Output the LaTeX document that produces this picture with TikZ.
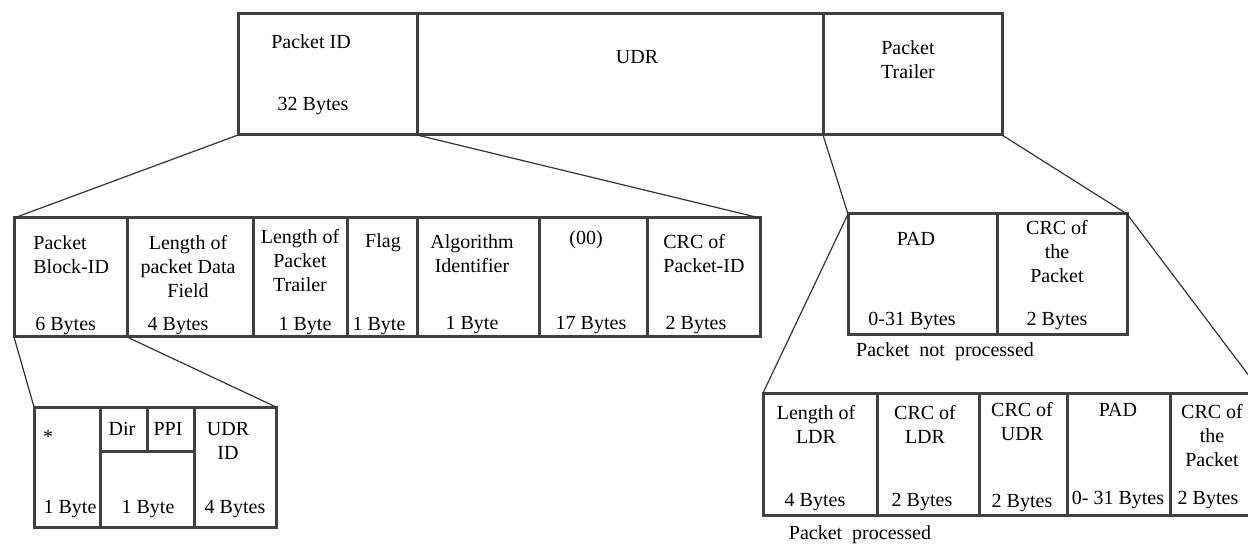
\documentclass[tikz,border=0pt]{standalone}
\usepackage{fontspec}
\setmainfont{Liberation Serif}
\usetikzlibrary{fit}

\tikzset{
  cell/.style={draw=black!75, line width=1.5pt, inner sep=0pt, outer sep=0pt},
  field/.style={inner sep=0pt, align=center, font=\fontsize{10}{12}\selectfont},
  link/.style={draw=black!80, line width=0.6pt}
}

\begin{document}
\begin{tikzpicture}[x=0.5pt, y=-0.5pt]

\useasboundingbox (0,0) rectangle (1248,545);
\clip (0,0) rectangle (1248,545);

% Packet
\foreach \n/\a/\b in {pid/238/417, udr/417/823, trl/823/1002}
  \node[cell, fit={(\a,14) (\b,135)}] (\n) {};

% Packet ID fields
\foreach \n/\a/\b in {blk/14/127, lpd/127/253, lpt/253/347, flg/347/417,
                      alg/417/539, zer/539/647, crc/647/760}
  \node[cell, fit={(\a,218) (\b,337)}] (\n) {};

% Packet Block-ID fields
\foreach \n/\a/\b in {ast/34/100, bye/100/194, uid/194/276}
  \node[cell, fit={(\a,407) (\b,527)}] (\n) {};
\foreach \n/\a/\b in {dir/100/147, ppi/147/194}
  \node[cell, fit={(\a,407) (\b,451)}] (\n) {};

% Trailer, not processed
\foreach \n/\a/\b in {pad/848/997, crcp/997/1127}
  \node[cell, fit={(\a,214) (\b,335)}] (\n) {};

% Trailer, processed
\foreach \n/\a/\b in {lld/763/877, cld/877/979, cud/979/1067, pdd/1067/1170, cpk/1170/1262}
  \node[cell, fit={(\a,393) (\b,515)}] (\n) {};

% Texts
\node[field] (pid-n) at (311,42) {Packet ID};
\node[field] (pid-b) at (313,106) {32 Bytes};
\node[field] (udr-n) at (637,57) {UDR};
\node[field] (trl-n) at (908,60) {Packet\\Trailer};

\node[field, align=left, anchor=west] (blk-n) at (33,255) {Packet\\Block-ID};
\node[field, anchor=west] (blk-b) at (35,326) {6 Bytes};
\node[field] (lpd-n) at (188,267) {Length of\\packet Data\\Field};
\node[field] (lpd-b) at (178,326) {4 Bytes};
\node[field] (lpt-n) at (300,261) {Length of\\Packet\\Trailer};
\node[field] (lpt-b) at (305,326) {1 Byte};
\node[field] (flg-n) at (383,243) {Flag};
\node[field] (flg-b) at (379,326) {1 Byte};
\node[field] (alg-n) at (472,254) {Algorithm\\Identifier};
\node[field] (alg-b) at (472,325) {1 Byte};
\node[field] (zer-n) at (586,240) {(00)};
\node[field] (zer-b) at (591,325) {17 Bytes};
\node[field, align=left, anchor=west] (crc-n) at (663,254) {CRC of\\Packet-ID};
\node[field] (crc-b) at (696,325) {2 Bytes};

\node[field] (ast-n) at (48,437) {*};
\node[field] (ast-b) at (70,509) {1 Byte};
\node[field] (dir-n) at (122,429) {Dir};
\node[field] (ppi-n) at (168,429) {PPI};
\node[field] (bye-b) at (148,509) {1 Byte};
\node[field] (uid-n) at (228,441) {UDR\\ID};
\node[field] (uid-b) at (235,509) {4 Bytes};

\node[field] (pad-n) at (916,239) {PAD};
\node[field] (pad-b) at (912,321) {0-31 Bytes};
\node[field] (crcp-n) at (1057,252) {CRC of\\the\\Packet};
\node[field] (crcp-b) at (1057,321) {2 Bytes};
\node[field] (np) at (945,352) {Packet\ \ not\ \ processed};

\node[field] (lld-n) at (816,424) {Length of\\LDR};
\node[field] (lld-b) at (815,502) {4 Bytes};
\node[field] (cld-n) at (925,424) {CRC of\\LDR};
\node[field] (cld-b) at (922,502) {2 Bytes};
\node[field] (cud-n) at (1022,422) {CRC of\\UDR};
\node[field] (cud-b) at (1022,503) {2 Bytes};
\node[field] (pdd-n) at (1118,410) {PAD};
\node[field] (pdd-b) at (1118,500) {0- 31 Bytes};
\node[field] (cpk-n) at (1212,436) {CRC of\\the\\Packet};
\node[field] (cpk-b) at (1208,500) {2 Bytes};
\node[field] (pp) at (860,535) {Packet\ \ processed};

% Links
\draw[link] (pid.south west) -- (blk.north west);
\draw[link] (pid.south east) -- (crc.north east);
\draw[link] (trl.south west) -- (pad.north west);
\draw[link] (trl.south east) -- (crcp.north east);
\draw[link] (pad.north west) -- (lld.north west);
\draw[link] (crcp.north east) -- (cpk.north east);
\draw[link] (blk.south west) -- (ast.north west);
\draw[link] (blk.south east) -- (uid.north east);

\end{tikzpicture}
\end{document}
